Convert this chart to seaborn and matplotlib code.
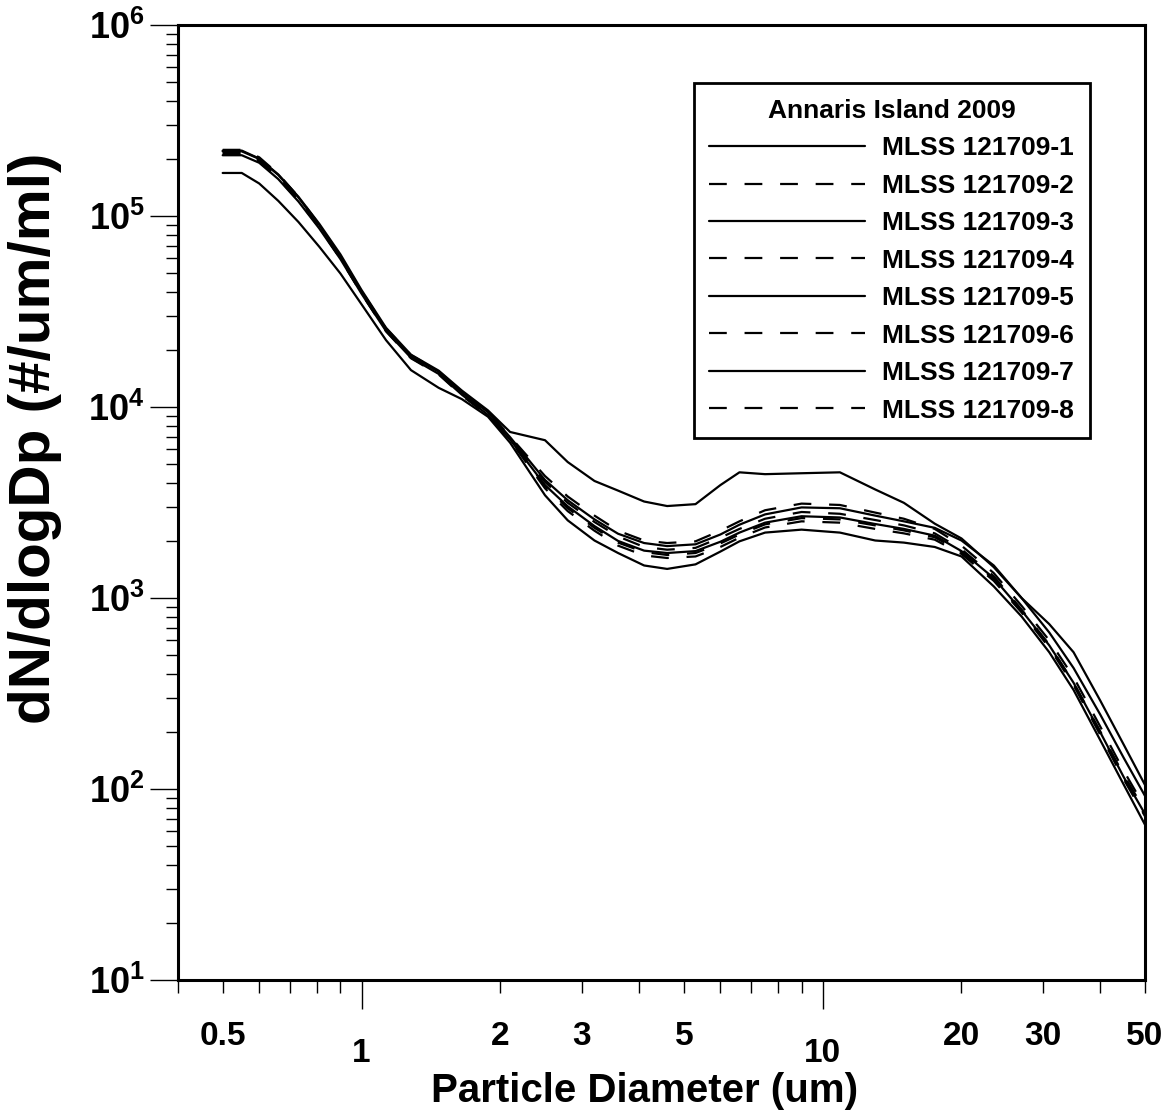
"""Particle size distributions, Annaris Island 2009 (MLSS 121709-1 .. -8).

dN/dlogDp vs particle diameter on log-log axes, one line per sample.
"""
import numpy as np
import pandas as pd
import matplotlib
matplotlib.use("Agg")
import matplotlib.pyplot as plt
from matplotlib.ticker import FixedLocator, FixedFormatter, LogLocator, NullFormatter
import seaborn as sns

# ---- data ----
DIAMETER = [0.50, 0.55, 0.60, 0.66, 0.73, 0.81, 0.90, 1.0, 1.13, 1.28, 1.47, 1.65,
            1.88, 2.1, 2.5, 2.8, 3.2, 3.6, 4.1, 4.6, 5.3, 6.0, 6.6, 7.5, 9.0, 10.9,
            13, 15, 17.5, 20, 23.5, 27, 31, 35, 40, 45, 50]

MLSS_1 = [220000, 220000, 200000, 165000, 126000, 91000, 63000, 41000, 26000, 18800,
          15500, 12200, 9600, 7400, 6700, 5150, 4100, 3650, 3200, 3030, 3100, 3900,
          4550, 4450, 4500, 4550, 3700, 3150, 2450, 2050, 1450, 1000, 730, 520, 290,
          170, 105]
MLSS_2 = [222000, 222000, 203000, 166000, 126000, 90000, 61500, 40500, 25800, 18700,
          15400, 12000, 9500, 7000, 4350, 3400, 2700, 2250, 2000, 1940, 1980, 2250,
          2520, 2880, 3120, 3070, 2800, 2600, 2300, 1880, 1350, 910, 600, 385, 212,
          124, 80]
MLSS_3 = [168000, 168000, 148000, 120000, 93000, 69000, 50000, 34500, 22400, 15600,
          12600, 11000, 8900, 6500, 3450, 2550, 2000, 1720, 1480, 1420, 1500, 1750,
          1980, 2200, 2280, 2200, 2000, 1950, 1850, 1650, 1150, 800, 520, 330, 180,
          105, 65]
MLSS_4 = [212000, 212000, 194000, 159000, 121000, 87500, 60000, 39500, 25200, 18300,
          15000, 11700, 9200, 6800, 4050, 3150, 2500, 2100, 1850, 1790, 1830, 2070,
          2300, 2600, 2820, 2760, 2560, 2400, 2180, 1800, 1300, 870, 570, 360, 200,
          118, 77]
MLSS_5 = [218000, 218000, 199000, 164000, 125000, 89500, 61000, 40000, 25500, 18500,
          15300, 11900, 9400, 6950, 4150, 3250, 2580, 2170, 1940, 1870, 1910, 2150,
          2420, 2740, 2980, 2950, 2700, 2520, 2330, 2000, 1480, 1000, 660, 430, 245,
          145, 92]
MLSS_6 = [216000, 216000, 196000, 161000, 123000, 88500, 60800, 40000, 25400, 18400,
          15200, 11900, 9400, 6850, 3850, 2950, 2330, 1950, 1740, 1680, 1720, 1930,
          2150, 2430, 2620, 2580, 2400, 2260, 2080, 1740, 1250, 850, 560, 355, 196,
          114, 73]
MLSS_7 = [208000, 208000, 190000, 156000, 119000, 86000, 59500, 39200, 25000, 18100,
          14900, 11600, 9100, 6750, 3900, 3020, 2380, 1990, 1770, 1720, 1760, 1970,
          2200, 2480, 2680, 2640, 2440, 2300, 2120, 1760, 1270, 860, 565, 360, 198,
          115, 74]
MLSS_8 = [210000, 210000, 192000, 157500, 120000, 87000, 59800, 39300, 24900, 18000,
          14800, 11500, 9000, 6700, 3750, 2850, 2250, 1880, 1670, 1620, 1650, 1850,
          2070, 2340, 2520, 2480, 2300, 2180, 2020, 1700, 1230, 840, 550, 350, 192,
          112, 72]

LABELS = ["MLSS 121709-1", "MLSS 121709-2", "MLSS 121709-3", "MLSS 121709-4",
          "MLSS 121709-5", "MLSS 121709-6", "MLSS 121709-7", "MLSS 121709-8"]
DASHED = [False, True, False, True, False, True, False, True]
LEGEND_TITLE = "Annaris Island 2009"

X_MAJOR = [1, 10]
X_MAJOR_LABELS = ["1", "10"]
X_MINOR = [0.4, 0.5, 0.6, 0.7, 0.8, 0.9, 2, 3, 4, 5, 6, 7, 8, 9, 20, 30, 40, 50]
X_MINOR_LABELS = ["", "0.5", "", "", "", "", "2", "3", "", "5", "", "", "", "",
                  "20", "30", "", "50"]
Y_MAJOR = [1e1, 1e2, 1e3, 1e4, 1e5, 1e6]
Y_MAJOR_LABELS = [r"$\mathbf{10^{1}}$", r"$\mathbf{10^{2}}$", r"$\mathbf{10^{3}}$",
                  r"$\mathbf{10^{4}}$", r"$\mathbf{10^{5}}$", r"$\mathbf{10^{6}}$"]

# ---- long table ----
series = [MLSS_1, MLSS_2, MLSS_3, MLSS_4, MLSS_5, MLSS_6, MLSS_7, MLSS_8]
df = pd.concat([pd.DataFrame({"Dp": DIAMETER, "dN": vals, "sample": lab})
                for vals, lab in zip(series, LABELS)], ignore_index=True)

# ---- style ----
sns.set_style("ticks")
plt.rcParams["font.family"] = ["Liberation Sans", "DejaVu Sans"]
plt.rcParams["font.weight"] = "bold"
plt.rcParams["text.color"] = "black"
plt.rcParams["axes.labelcolor"] = "black"
plt.rcParams["xtick.color"] = "black"
plt.rcParams["ytick.color"] = "black"
plt.rcParams["mathtext.fontset"] = "custom"
plt.rcParams["mathtext.rm"] = "Liberation Sans:bold"
plt.rcParams["mathtext.bf"] = "Liberation Sans:bold"
plt.rcParams["mathtext.it"] = "Liberation Sans:bold"

W, H = 1176, 1115
fig = plt.figure(figsize=(W / 100, H / 100), dpi=100)
ax = fig.add_axes([178 / W, 1 - 980 / H, (1145 - 178) / W, (980 - 25) / H])
ax.set_xscale("log")
ax.set_yscale("log")

for lab, dashed in zip(LABELS, DASHED):
    sub = df[df["sample"] == lab]
    sns.lineplot(data=sub, x="Dp", y="dN", ax=ax, color="black", lw=1.6,
                 linestyle=(0, (8, 8)) if dashed else "-", label=lab,
                 estimator=None, legend=False)

ax.set_xlim(0.4, 50)
ax.set_ylim(10, 1e6)

ax.xaxis.set_major_locator(FixedLocator(X_MAJOR))
ax.xaxis.set_major_formatter(FixedFormatter(X_MAJOR_LABELS))
ax.xaxis.set_minor_locator(FixedLocator(X_MINOR))
ax.xaxis.set_minor_formatter(FixedFormatter(X_MINOR_LABELS))
ax.yaxis.set_major_locator(FixedLocator(Y_MAJOR))
ax.yaxis.set_major_formatter(FixedFormatter(Y_MAJOR_LABELS))
ax.yaxis.set_minor_locator(LogLocator(base=10, subs=np.arange(2, 10)))
ax.yaxis.set_minor_formatter(NullFormatter())

ax.tick_params(axis="x", which="major", direction="out", length=21, width=1,
               pad=21, labelsize=24, bottom=True)
ax.tick_params(axis="x", which="minor", direction="out", length=9.5, width=1,
               pad=20, labelsize=24, bottom=True)
ax.tick_params(axis="y", which="major", direction="out", length=20, width=1,
               pad=4, labelsize=26, left=True)
ax.tick_params(axis="y", which="minor", direction="out", length=9, width=1, left=True)

for sp in ax.spines.values():
    sp.set_color("black")
    sp.set_linewidth(2.2)

ax.set_xlabel("Particle Diameter (um)", fontsize=29, fontweight="bold")
ax.set_ylabel("dN/dlogDp (#/um/ml)", fontsize=42, fontweight="bold")
ax.xaxis.set_label_coords((645 - 178) / (1145 - 178), (980 - 1072) / (980 - 25))
ax.yaxis.set_label_coords((62 - 178) / (1145 - 178), (980 - 438) / (980 - 25))

handles = ax.get_lines()[:len(LABELS)]
leg = ax.legend(handles, LABELS, title=LEGEND_TITLE, loc="upper right",
                bbox_to_anchor=(1090 / W, 1 - 83 / H), bbox_transform=fig.transFigure,
                fontsize=19, title_fontsize=19, handlelength=5.9, handletextpad=0.65,
                labelspacing=0.51, borderpad=0.6, borderaxespad=0,
                frameon=True, fancybox=False, framealpha=1, edgecolor="black")
leg.get_frame().set_linewidth(2)
leg.get_title().set_fontweight("bold")

fig.savefig("out.png", dpi=100)
print("Saved out.png")
